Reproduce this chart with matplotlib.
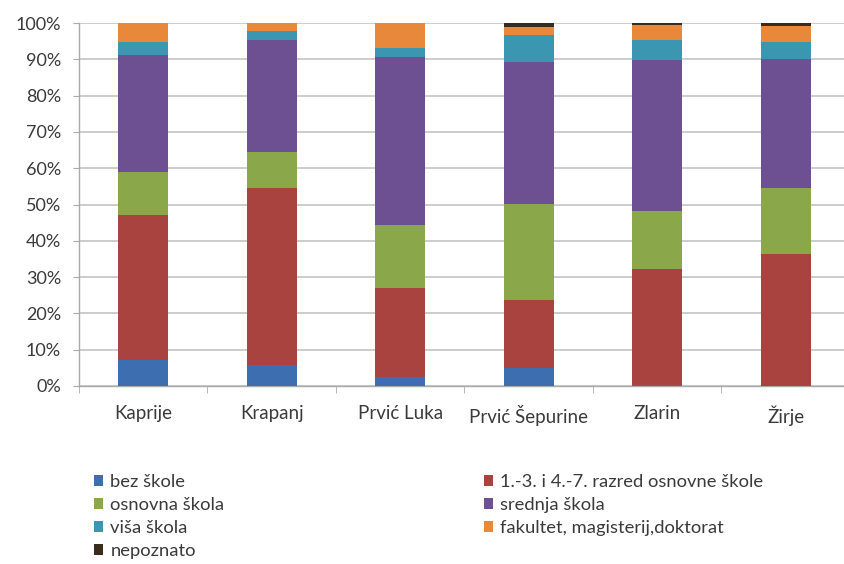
import numpy as np
import matplotlib
matplotlib.use("Agg")
import matplotlib.pyplot as plt
from matplotlib.ticker import FuncFormatter

plt.rcParams['font.family'] = ['Lato', 'DejaVu Sans']

# Data (percent of population)
places = ["Kaprije", "Krapanj", "Prvić Luka", "Prvić Šepurine", "Zlarin", "Žirje"]
bez_skole = [7.2, 5.8, 2.5, 5.0, 0.3, 0.0]
razred_1_7 = [39.9, 48.7, 24.4, 18.7, 31.8, 36.3]
osnovna = [11.8, 9.9, 17.5, 26.4, 16.0, 18.3]
srednja = [32.3, 30.9, 46.3, 39.1, 41.7, 35.4]
visa = [3.6, 2.5, 2.3, 7.5, 5.5, 4.8]
fakultet = [5.2, 2.2, 7.0, 2.3, 4.1, 4.4]
nepoznato = [0.0, 0.0, 0.0, 1.0, 0.6, 0.8]

series = [
    ("bez škole", bez_skole, "#3d6fb0"),
    ("1.-3. i 4.-7. razred osnovne škole", razred_1_7, "#a8433f"),
    ("osnovna škola", osnovna, "#8aa84a"),
    ("srednja škola", srednja, "#6c5091"),
    ("viša škola", visa, "#3b97b1"),
    ("fakultet, magisterij,doktorat", fakultet, "#e8883a"),
    ("nepoznato", nepoznato, "#3a2c1c"),
]

totals = np.sum([s[1] for s in series], axis=0)
txt = "#3a3a3a"

fig = plt.figure(figsize=(8.45, 5.64), dpi=100)
ax = fig.add_axes([79 / 845, 1 - 386 / 564, 771 / 845, 363 / 564])

x = np.arange(len(places))
bottom = np.zeros(len(places))
handles = {}
for name, vals, col in series:
    v = np.array(vals) / totals * 100
    b = ax.bar(x, v, 0.39, bottom=bottom, color=col, label=name, zorder=3)
    handles[name] = b
    bottom += v

ax.set_xlim(-0.5, len(places) - 0.5)
ax.set_ylim(0, 100)
ax.set_yticks(np.arange(0, 101, 10))
ax.yaxis.set_major_formatter(FuncFormatter(lambda v, p: "%d%%" % v))
ax.yaxis.grid(True, color="#c8c8c8", linewidth=1.3, zorder=0)

ax.set_xticks(x)
ax.set_xticklabels(places)
ax.set_xticks(np.arange(-0.5, len(places), 1), minor=True)
ax.tick_params(axis="x", which="major", length=0, pad=14, labelsize=13.5, labelcolor=txt)
ax.tick_params(axis="x", which="minor", length=5, color="#aaaaaa")
ax.tick_params(axis="y", length=4, color="#aaaaaa", labelsize=13, labelcolor=txt, pad=9)

for s in ["top", "right"]:
    ax.spines[s].set_visible(False)
for s in ["left", "bottom"]:
    ax.spines[s].set_color("#aaaaaa")
    ax.spines[s].set_linewidth(1.0)

col1 = ["bez škole", "osnovna škola", "viša škola", "nepoznato"]
col2 = ["1.-3. i 4.-7. razred osnovne škole", "srednja škola", "fakultet, magisterij,doktorat"]
leg_kw = dict(frameon=False, fontsize=13.2, handlelength=0.5, handleheight=0.5,
              handletextpad=0.4, labelspacing=0.38, borderaxespad=0, borderpad=0)
leg1 = fig.legend([handles[n] for n in col1], col1, loc="upper left",
                  bbox_to_anchor=(94 / 845, 1 - 474 / 564), **leg_kw)
leg2 = fig.legend([handles[n] for n in col2], col2, loc="upper left",
                  bbox_to_anchor=(484 / 845, 1 - 474 / 564), **leg_kw)
for lg in (leg1, leg2):
    for t in lg.get_texts():
        t.set_color(txt)

fig.savefig("out.png", dpi=100)
